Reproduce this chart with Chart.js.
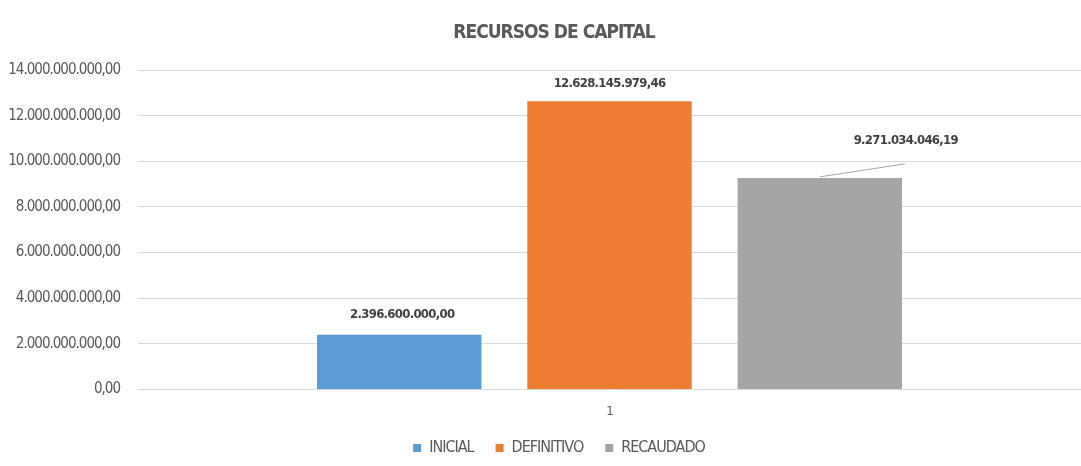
<!DOCTYPE html>
<html><head><meta charset="utf-8">
<script src="https://cdn.jsdelivr.net/npm/chart.js@4.4.0/dist/chart.umd.min.js"></script>
<style>html,body{margin:0;padding:0;background:#fff;} #wrap{width:1081px;height:466px;position:relative;}</style>
</head><body><div id="wrap"><canvas id="c"></canvas></div>
<script>
const categories = ['1'];
const seriesNames = ['INICIAL', 'DEFINITIVO', 'RECAUDADO'];
const inicial = [2396600000.00];
const definitivo = [12628145979.46];
const recaudado = [9271034046.19];
const yMin = 0, yMax = 14000000000, yStep = 2000000000;
const colors = ['#5B9BD5', '#ED7D31', '#A5A5A5'];
const FONT = '"DejaVu Sans Condensed", "DejaVu Sans", sans-serif';
const SPACING = '-1px';
const LEGEND_SHIFT = 15;
const LEGEND_DX = 17;
const TITLE_DX = 12;

function fmt(v) {
  const neg = v < 0; v = Math.abs(v);
  const s = v.toFixed(2);
  let [ip, dp] = s.split('.');
  ip = ip.replace(/\B(?=(\d{3})+(?!\d))/g, '.');
  return (neg ? '-' : '') + ip + ',' + dp;
}

const labelPos = [
  {dx: 3, dy: -20, leader: false},
  {dx: 0, dy: -18, leader: false},
  {dx: 86, dy: -37, leader: true}
];

const condensed = {
  id: 'condensed',
  beforeUpdate(chart) { chart.ctx.letterSpacing = SPACING; },
  beforeLayout(chart) {
    chart.ctx.letterSpacing = SPACING;
    const lg = chart.legend;
    if (lg && !lg._patched) {
      const f = lg.fit.bind(lg);
      lg.fit = function () { f(); this.height -= LEGEND_SHIFT; };
      lg._patched = true;
    }
  },
  afterLayout(chart) {
    const lg = chart.legend;
    if (lg) {
      lg.top -= LEGEND_SHIFT; lg.height += LEGEND_SHIFT;
      lg.left += LEGEND_DX; lg.right += LEGEND_DX;
    }
    const tb = chart.titleBlock;
    if (tb) { tb.left += TITLE_DX; tb.right += TITLE_DX; }
  },
  beforeDraw(chart) { chart.ctx.letterSpacing = SPACING; }
};

const dataLabels = {
  id: 'dataLabels',
  afterDatasetsDraw(chart) {
    const ctx = chart.ctx;
    ctx.save();
    chart.data.datasets.forEach((ds, i) => {
      const meta = chart.getDatasetMeta(i);
      meta.data.forEach((bar, j) => {
        const p = labelPos[i];
        const x = bar.x + p.dx, y = bar.y + p.dy;
        if (p.leader) {
          ctx.strokeStyle = '#A6A6A6';
          ctx.lineWidth = 1;
          ctx.beginPath();
          ctx.moveTo(x - 1, y + 23);
          ctx.lineTo(bar.x, bar.y - 1);
          ctx.stroke();
        }
        ctx.fillStyle = '#404040';
        ctx.font = 'bold 13px ' + FONT;
        ctx.letterSpacing = '-0.7px';
        ctx.textAlign = 'center';
        ctx.textBaseline = 'middle';
        ctx.fillText(fmt(ds.data[j]), x, y);
      });
    });
    ctx.restore();
  }
};

const series = [inicial, definitivo, recaudado];
new Chart(document.getElementById('c'), {
  type: 'bar',
  data: {
    labels: categories,
    datasets: seriesNames.map((n, i) => ({
      label: n,
      data: series[i],
      backgroundColor: colors[i],
      borderWidth: 0,
      categoryPercentage: 0.669,
      barPercentage: 0.782
    }))
  },
  options: {
    responsive: true,
    maintainAspectRatio: false,
    animation: false,
    layout: {padding: {left: 0, right: -3, top: 0, bottom: 0}},
    plugins: {
      title: {
        display: true,
        text: 'RECURSOS DE CAPITAL',
        color: '#595959',
        font: {family: FONT, size: 19, weight: 'bold'},
        padding: {top: 22, bottom: 25.2}
      },
      legend: {
        position: 'bottom',
        labels: {
          color: '#595959',
          font: {family: FONT, size: 16},
          boxWidth: 8,
          boxHeight: 8,
          padding: 22
        }
      },
      tooltip: {enabled: false}
    },
    scales: {
      x: {
        grid: {display: false, drawTicks: false},
        border: {display: false},
        ticks: {color: '#595959', font: {family: FONT, size: 13}, padding: 14}
      },
      y: {
        min: yMin, max: yMax,
        afterFit(scale) { scale.width = 138; },
        grid: {color: '#D9D9D9', drawTicks: false, lineWidth: 1},
        border: {display: false},
        ticks: {
          stepSize: yStep,
          color: '#595959',
          font: {family: FONT, size: 15},
          padding: 18,
          callback: v => fmt(v)
        }
      }
    }
  },
  plugins: [condensed, dataLabels]
});
</script>
</body></html>
